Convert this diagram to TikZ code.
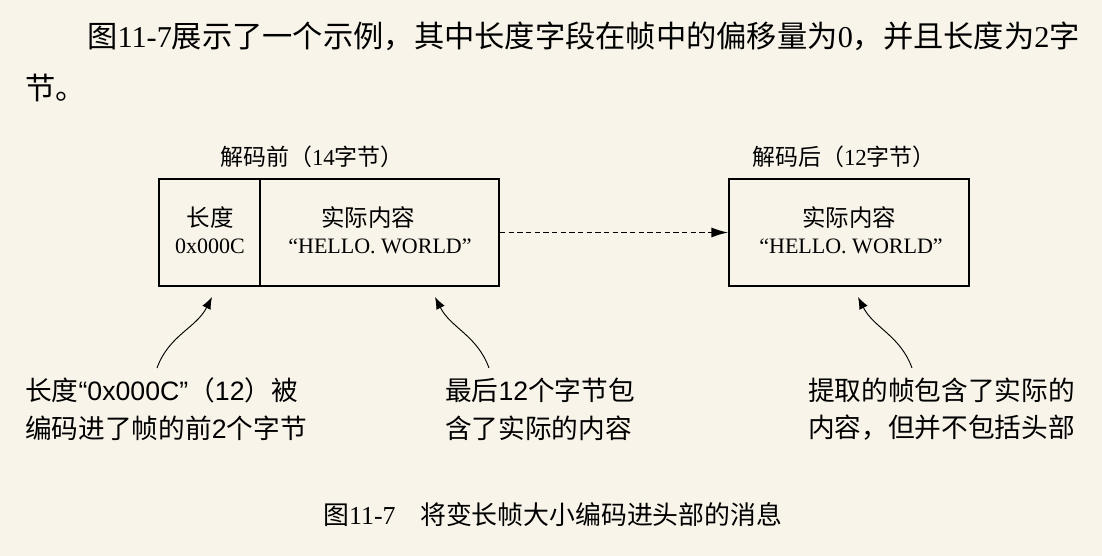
\documentclass[tikz,border=0pt]{standalone}
\usepackage{fontspec}
\setmainfont{Liberation Serif}
\newfontfamily\cjk{Noto Sans CJK SC}
\newfontfamily\lsans{Liberation Sans}
\usetikzlibrary{arrows.meta}
\definecolor{bg}{HTML}{F8F4EA}
\newcommand{\C}[1]{{\cjk #1}}
\newcommand{\Ls}[1]{{\lsans #1}}
\newcommand{\Bc}[1]{{\cjk\fontsize{17.6}{20}\selectfont #1}}
\begin{document}
\begin{tikzpicture}[x=0.75pt,y=-0.75pt,
  para/.style={font=\fontsize{22.7}{27}\selectfont, anchor=west, inner sep=0},
  boxt/.style={font=\fontsize{16.5}{20}\selectfont, inner sep=0},
  toplab/.style={font=\fontsize{17.2}{20}\selectfont, anchor=west, inner sep=0},
  lab/.style={font=\fontsize{20}{24}\selectfont, anchor=west, inner sep=0},
  captxt/.style={font=\fontsize{19.4}{22}\selectfont, anchor=west, inner sep=0},
  frame/.style={draw, line width=1.3pt, inner sep=0, minimum height=80.25pt},
  dasharrow/.style={dash pattern=on 4pt off 2.5pt, line width=1pt, -{Latex[length=12.5pt,width=7.5pt]}},
  curvearrow/.style={line width=0.7pt, -{Latex[length=9pt,width=7pt]}}
]
\fill[bg] (0,0) rectangle (1102,556);
\useasboundingbox (0,0) rectangle (1102,556);

% paragraph
\node[para] (p1) at (87,36) {\C{图}11-7\C{展示了一个示例，其中长度字段在帧中的偏移量为}0\C{，并且长度为}2\C{字}};
\node[para] (p2) at (25,88) {\C{节。}};

% boxes
\node[frame, minimum width=75.75pt] (len) at (209.5,232.5) {};
\node[frame, minimum width=179.25pt] (cont) at (379.5,232.5) {};
\node[frame, minimum width=180pt] (res) at (849,232.5) {};

\node[toplab] (lb1) at (220,157) {\C{解码前（}14\C{字节）}};
\node[toplab] (lb2) at (752,157) {\C{解码后（}12\C{字节）}};

\node[boxt] (t1) at (210,218) {\Bc{长度}};
\node[boxt] (t2) at (210,246) {0x000C};
\node[boxt] (t3) at (368,218) {\Bc{实际内容}};
\node[boxt] (t4) at (380,246) {“HELLO. WORLD”};
\node[boxt] (t5) at (849,218) {\Bc{实际内容}};
\node[boxt] (t6) at (851,246) {“HELLO. WORLD”};

\draw[dasharrow] (cont.east) -- (res.west);

% curved arrows
\coordinate (a1s) at (157,368);
\coordinate (a1e) at (212,297);
\coordinate (a2s) at (489,368);
\coordinate (a2e) at (435,297);
\coordinate (a3s) at (912,368);
\coordinate (a3e) at (858,297);
\draw[curvearrow] (a1s) to[out=70,in=-117] (a1e);
\draw[curvearrow] (a2s) to[out=110,in=-63] (a2e);
\draw[curvearrow] (a3s) to[out=110,in=-63] (a3e);

% labels
\node[lab] (l11) at (25,390) {\C{长度}\Ls{“0x000C”}\C{（}\Ls{12}\C{）被}};
\node[lab] (l12) at (25,428) {\C{编码进了帧的前}\Ls{2}\C{个字节}};
\node[lab] (l21) at (445,390) {\C{最后}\Ls{12}\C{个字节包}};
\node[lab] (l22) at (445,428) {\C{含了实际的内容}};
\node[lab] (l31) at (808,390) {\C{提取的帧包含了实际的}};
\node[lab] (l32) at (808,428) {\C{内容，但并不包括头部}};

% caption
\node[captxt] (cp) at (323,515) {\C{图}11-7\hspace{0.95em}\C{将变长帧大小编码进头部的消息}};
\end{tikzpicture}
\end{document}
